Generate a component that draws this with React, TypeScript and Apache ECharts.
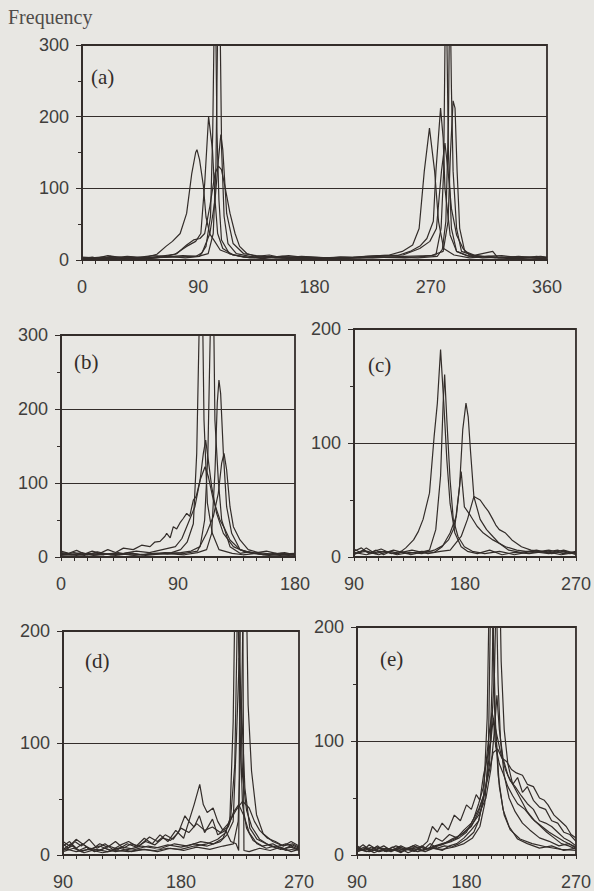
import React, { useEffect, useRef } from "react";
import * as echarts from "echarts";

// ---------- DATA : [angle in degrees, frequency] ----------
const panelLabels = ["(a)", "(b)", "(c)", "(d)", "(e)"];
const yTitle = "Frequency";

const aSeries1 = [[0,2],[8,4],[15,1],[22,5],[30,2],[40,3],[50,4],[58,8],[65,19],[70,26],[76,37],[81,65],[85,121],[88,150],[89,154],[91,140],[94,103],[96,60],[99,36],[102,28],[107,14],[117,7],[130,3],[145,5],[160,2],[175,4],[190,3],[205,2],[220,5],[238,7],[248,12],[256,21],[261,44],[265,124],[269,184],[273,124],[276,54],[280,16],[288,7],[300,3],[315,5],[330,2],[345,3],[360,2]];
const aSeries2 = [[0,3],[10,2],[20,6],[32,3],[45,2],[60,5],[72,8],[81,19],[88,26],[92,37],[95,107],[98,200],[101,154],[103,84],[105,37],[109,16],[117,7],[128,4],[140,2],[155,5],[170,3],[185,2],[200,4],[215,3],[230,5],[244,6],[254,12],[262,20],[267,30],[272,54],[274,124],[277.6,212],[279.6,170],[281,100],[285,35],[290,12],[298,6],[310,3],[325,4],[340,2],[352,5],[360,3]];
const aSeries3 = [[0,1],[12,3],[25,2],[38,4],[52,2],[68,5],[80,3],[91,5],[96,19],[99.5,61],[101.2,178],[103,420],[104.5,178],[106,84],[108,28],[114,9],[125,4],[140,3],[160,6],[180,2],[200,3],[225,4],[250,3],[265,5],[274,7],[278,44],[280,124],[281.7,420],[283.7,147],[286,44],[290,12],[300,5],[318,12],[322,3],[340,4],[360,2]];
const aSeries4 = [[0,2],[15,4],[30,3],[48,2],[62,4],[78,6],[90,5],[97.7,9],[101.6,37],[103.7,131],[105,320],[106,380],[107,320],[108.1,154],[110,61],[113,23],[119.5,9],[130,5],[150,3],[170,4],[195,2],[215,3],[240,4],[260,3],[275,5],[279,15],[281.7,54],[283.7,194],[284.8,400],[286,240],[287.3,124],[290,44],[293.8,12],[305,5],[325,3],[345,4],[360,2]];
const aSeries5 = [[0,3],[18,2],[35,5],[50,3],[70,4],[88,5],[93,10],[99,37],[103,84],[105.6,140],[107.5,175],[109,154],[112,65],[117,23],[125,9],[135,6],[150,3],[175,2],[200,4],[225,3],[250,5],[270,6],[279.6,12],[283.4,54],[285.2,147],[287.3,222],[288.8,212],[290.4,124],[292.4,44],[296.3,12],[305,6],[320,3],[338,5],[360,2]];
const aSeries6 = [[0,4],[10,3],[25,4],[40,3],[55,6],[65,5],[73.5,9],[81,21],[86.4,28],[91.3,30],[95,37],[99,75],[103,121],[105.6,131],[108,126],[110.6,103],[114.6,65],[118.5,37],[122,19],[127.6,9],[135,5],[145,7],[155,3],[170,5],[190,3],[210,4],[230,6],[248.5,7],[261.5,16],[269.3,26],[274.4,44],[278.3,124],[281,163],[283.4,124],[286,72],[290,35],[295,16],[300,7],[310,5],[325,6],[340,3],[355,5],[360,4]];

const bSeries1 = [[0,5],[8,3],[16,6],[25,2],[35,4],[45,3],[55,5],[65,2],[75,4],[85,6],[92,10],[97,20],[101.8,45],[104.4,140],[106.4,320],[108,380],[109,320],[110,185],[112.6,73],[116.4,32],[121.5,10],[131.7,5],[140,3],[150,5],[160,2],[170,4],[180,3]];
const bSeries2 = [[0,3],[10,6],[20,3],[30,5],[42,2],[52,6],[62,3],[72,5],[82,4],[92,6],[100,8],[107,14],[110.5,50],[113,140],[115,320],[116.5,380],[117.5,320],[118.4,185],[121,104],[123.6,50],[130,14],[137.7,5],[145,7],[155,3],[165,5],[175,2],[180,4]];
const bSeries3 = [[0,4],[12,2],[22,5],[33,3],[44,6],[56,2],[68,4],[80,5],[95,3],[105,6],[112,10],[115.9,32],[118.5,118],[120.2,208],[121.5,239],[122.8,221],[124.9,140],[127.4,68],[131.3,32],[137.7,10],[145,6],[155,4],[168,2],[180,3]];
const bSeries4 = [[0,6],[9,4],[18,2],[28,7],[38,3],[48,5],[58,8],[68,6],[78,10],[88,14],[93,25],[96.7,41],[103,68],[107,104],[109.5,140],[111.3,158],[113.3,131],[115.9,95],[119.7,59],[124.9,32],[132.6,14],[140,8],[148,5],[158,3],[170,5],[180,2]];
const bSeries5 = [[0,2],[14,4],[26,3],[40,5],[54,3],[66,4],[80,6],[95,5],[105,8],[112,32],[117.2,55],[121,86],[123.6,127],[125.4,140],[127.4,118],[130,68],[132.6,41],[137.7,23],[144,10],[152,6],[162,4],[172,6],[180,3]];
const bSeries6 = [[0,8],[6,5],[12,9],[18,4],[24,8],[30,5],[36,10],[42,6],[48,12],[55.6,10],[62,16],[68.5,14],[72,20],[76.2,21],[80,28],[81.3,32],[84,26],[86.4,41],[89,38],[91.5,46],[94,52],[96.7,59],[99,55],[101.8,77],[104,82],[107,104],[110.8,122],[113.3,109],[117.2,77],[122.3,50],[126,38],[130,23],[137.7,10],[148,5],[158,8],[168,4],[180,5]];

const cSeries1 = [[90,5],[96,8],[102,3],[108,6],[114,2],[120,5],[126,3],[132,8],[138.3,15],[142,22],[146,33],[151.2,56],[155,106],[157.6,135],[160.2,182],[162.8,135],[165.3,85],[167.9,47],[171.8,21],[176.9,9],[182,5],[190,3],[200,6],[210,2],[220,4],[232,3],[245,5],[258,2],[270,4]];
const cSeries2 = [[90,2],[97,6],[104,4],[112,7],[120,3],[128,5],[136,2],[144,4],[151.2,6],[156.3,24],[160.2,71],[162.3,135],[163.5,160],[165.3,120],[167.9,68],[170.5,33],[174.3,18],[179.5,9],[186,5],[196,3],[208,5],[220,2],[234,5],[248,3],[260,6],[270,3]];
const cSeries3 = [[90,7],[95,4],[100,8],[107,3],[115,5],[125,2],[135,4],[145,3],[155,6],[162,10],[166.6,15],[171.8,27],[175.6,62],[178.2,112],[180.8,135],[182.6,123],[184.6,91],[187.2,53],[192.3,33],[197.5,24],[202.6,18],[207.8,12],[215.5,6],[225,4],[238,6],[250,3],[262,5],[270,2]];
const cSeries4 = [[90,3],[99,5],[110,2],[122,6],[133,3],[145,5],[155,4],[161.5,9],[167.9,21],[173,36],[176.9,75],[179.5,44],[184.6,36],[189.8,27],[194.9,21],[202.6,15],[212.9,9],[222,6],[235,4],[248,6],[260,3],[270,5]];
const cSeries5 = [[90,4],[100,2],[111,5],[124,3],[137,6],[150,3],[160,5],[168,6],[176.9,18],[182,33],[187.2,53],[192.3,50],[196.2,44],[199,40],[202.6,33],[205,28],[207.8,24],[212.9,21],[218,15],[225.8,9],[233.5,6],[245,4],[255,6],[265,3],[270,4]];

const dSeries1 = [[90,8],[95,12],[100,6],[105,10],[110,5],[118,8],[126,4],[135,7],[145,5],[155,8],[165,6],[175,10],[185,8],[195,12],[205,10],[212,15],[217.2,30],[219.8,119],[221.5,260],[223,260],[224.9,119],[226.9,45],[230,24],[235,13],[242,8],[250,10],[258,5],[265,9],[270,6]];
const dSeries2 = [[90,5],[96,10],[102,4],[108,7],[114,3],[122,6],[130,3],[140,5],[150,8],[160,6],[170,9],[180,7],[190,10],[200,8],[210,12],[215,18],[219.8,30],[222.3,104],[224.4,176],[226.1,134],[228.7,60],[232.5,24],[238,14],[245,10],[252,7],[260,10],[270,5]];
const dSeries3 = [[90,3],[98,6],[106,2],[115,5],[124,3],[133,6],[142,3],[152,5],[162,3],[172,6],[182,4],[192,7],[202,5],[212,8],[220,10],[223.6,30],[226.1,119],[227.8,260],[229.5,260],[231.2,134],[233.8,75],[237.6,36],[242.7,19],[250,12],[258,8],[265,10],[270,7]];
const dSeries4 = [[90,10],[94,6],[99,12],[104,8],[110,14],[116,6],[122,10],[128,5],[134,9],[140,12],[146,8],[152,15],[158,10],[164,18],[170,12],[176,22],[182,15],[186,30],[190,25],[194,35],[198,20],[204,32],[208,18],[214,22],[218,12],[222,10],[224,4],[225.5,260],[227,260],[228,4],[232,3],[240,6],[248,4],[256,7],[264,3],[270,5]];
const dSeries5 = [[90,4],[97,8],[104,3],[111,6],[118,4],[125,8],[132,5],[139,10],[146,7],[153,12],[160,9],[166,15],[172,13],[178,20],[183,35],[186,30],[190,45],[194.3,63],[197,45],[200,38],[204.5,42],[208,30],[212,22],[216,25],[220,38],[224,45],[228,35],[232,20],[238,10],[245,6],[252,8],[260,4],[270,6]];
const dSeries6 = [[90,12],[95,8],[100,14],[106,9],[112,5],[118,10],[124,7],[130,12],[136,6],[142,10],[148,8],[156,16],[162,12],[168,18],[174,14],[180,24],[186,20],[192,28],[198,22],[204,25],[210,20],[216,28],[222,40],[227,48],[232,42],[236,30],[240,22],[246,15],[252,12],[258,8],[264,12],[270,8]];
const dSeries7 = [[90,6],[100,3],[110,5],[120,2],[130,4],[140,3],[150,5],[160,4],[170,6],[180,5],[190,8],[200,10],[208,14],[214,20],[218,35],[221,80],[222.5,180],[223.5,260],[225,150],[227,70],[230,40],[234,25],[240,14],[248,8],[256,5],[264,7],[270,4]];

const eSeries1 = [[90,8],[96,4],[102,7],[108,3],[114,6],[120,4],[126,8],[132,5],[138,7],[144,4],[150,10],[156,6],[162,8],[168,7],[174,10],[180,14],[186,20],[190,30],[194,50],[197,120],[199,250],[201,250],[203,130],[206,70],[210,40],[215,25],[222,14],[230,10],[240,6],[250,8],[260,4],[270,6]];
const eSeries2 = [[90,5],[95,9],[101,4],[107,8],[113,3],[119,7],[125,4],[131,6],[137,3],[143,8],[149,5],[155,15],[160,12],[166,18],[172,15],[178,22],[184,28],[190,40],[195,55],[199,80],[201,150],[202.5,260],[204,260],[206,150],[208,100],[211,70],[215,50],[220,38],[226,28],[232,22],[240,15],[248,12],[256,8],[264,10],[270,6]];
const eSeries3 = [[90,3],[97,6],[104,2],[111,5],[118,3],[125,6],[132,2],[139,5],[146,3],[153,6],[160,4],[166,8],[172,10],[178,15],[184,22],[190,30],[196,60],[200,100],[203,160],[205,260],[207,260],[208.5,170],[211,110],[214,80],[218,62],[224,50],[230,38],[236,30],[242,25],[248,20],[254,16],[260,12],[266,9],[270,7]];
const eSeries4 = [[90,6],[98,3],[106,7],[114,4],[122,8],[130,5],[138,9],[146,5],[154,8],[160,10],[166,12],[172,15],[178,20],[184,26],[190,35],[196,50],[200,75],[203,110],[205,140],[207,110],[210,85],[214,70],[218,62],[222,68],[226,55],[230,60],[235,48],[240,42],[245,40],[250,30],[255,28],[260,20],[265,18],[270,12]];
const eSeries5 = [[90,4],[96,7],[102,3],[108,6],[114,3],[120,5],[126,2],[132,6],[138,4],[144,7],[150,5],[156,8],[162,10],[168,12],[174,15],[180,20],[186,32],[190,45],[194,60],[196,80],[199,110],[201,125],[204,110],[208,90],[212,75],[216,65],[220,60],[225,52],[230,45],[235,40],[240,30],[245,28],[250,25],[255,20],[260,15],[265,12],[270,8]];
const eSeries6 = [[90,7],[95,4],[100,9],[106,5],[112,8],[118,4],[124,7],[130,5],[136,8],[142,6],[148,12],[152,25],[156,20],[160,28],[165,22],[170,35],[175,30],[180,44],[184,40],[188,53],[191,48],[194,70],[197,85],[200,100],[202,120],[204,95],[207,80],[210,72],[214,60],[218,52],[222,45],[228,40],[234,32],[240,26],[246,20],[252,15],[258,10],[264,8],[270,5]];
const eSeries7 = [[90,3],[99,6],[108,3],[117,5],[126,3],[135,6],[144,4],[153,7],[160,9],[168,14],[176,18],[184,25],[190,38],[195,55],[199,75],[202,90],[205.7,93],[209,85],[213,82],[217,75],[221,72],[226,70],[230,62],[235,60],[240,50],[244,48],[247,44],[252,35],[257,30],[262,25],[266,18],[270,15]];
const eSeries8 = [[90,5],[100,3],[110,6],[120,4],[130,5],[140,3],[150,6],[160,5],[170,7],[178,10],[185,15],[191,25],[195,45],[198,90],[199.5,200],[200.5,260],[202,200],[204,110],[207,60],[211,35],[216,22],[224,14],[234,10],[246,7],[258,5],[270,4]];

const panelSeries = [
  [aSeries1, aSeries2, aSeries3, aSeries4, aSeries5, aSeries6],
  [bSeries1, bSeries2, bSeries3, bSeries4, bSeries5, bSeries6],
  [cSeries1, cSeries2, cSeries3, cSeries4, cSeries5],
  [dSeries1, dSeries2, dSeries3, dSeries4, dSeries5, dSeries6, dSeries7],
  [eSeries1, eSeries2, eSeries3, eSeries4, eSeries5, eSeries6, eSeries7, eSeries8],
];
const xRanges = [[0, 360], [0, 180], [90, 270], [90, 270], [90, 270]];
const yMaxes = [300, 300, 200, 200, 200];

// ---------- LAYOUT ----------
const W = 594, H = 891;
const grids = [
  { left: 82, top: 45, width: 465, height: 215 },
  { left: 61, top: 335, width: 234, height: 222 },
  { left: 354, top: 329, width: 233, height: 228 },
  { left: 63, top: 631, width: 236, height: 228 },
  { left: 357, top: 627, width: 233, height: 231 },
];
const labelPos = [[91, 77], [74, 362], [368, 365], [85, 661], [380, 659]];

const INK = "#332d2a";
const LABEL = "#403e3c";
const BG = "#e8e7e3";

export default function App() {
  const ref = useRef<HTMLDivElement>(null);
  useEffect(() => {
    if (!ref.current) return;
    const chart = echarts.init(ref.current, null, { renderer: "svg" });
    const xAxis = grids.map((_, i) => ({
      type: "value",
      gridIndex: i,
      min: xRanges[i][0],
      max: xRanges[i][1],
      interval: 10,
      splitLine: { show: false },
      axisLine: { show: true, onZero: false, lineStyle: { color: INK, width: 2 } },
      axisTick: { show: true, length: 4, lineStyle: { color: INK, width: 1 } },
      axisLabel: {
        margin: 18,
        fontSize: 18,
        fontFamily: "Liberation Sans, Arial, sans-serif",
        color: LABEL,
        formatter: (v: number) => (v % 90 === 0 ? String(v) : ""),
      },
    }));
    const yAxis = grids.map((_, i) => ({
      type: "value",
      gridIndex: i,
      min: 0,
      max: yMaxes[i],
      interval: 100,
      axisLine: { show: true, onZero: false, lineStyle: { color: INK, width: 1.8 } },
      axisTick: { show: true, length: 6, lineStyle: { color: INK, width: 1 } },
      minorTick: { show: true, splitNumber: 2, length: 4, lineStyle: { color: INK, width: 1 } },
      splitLine: { show: true, lineStyle: { color: INK, width: 1.2 } },
      axisLabel: {
        margin: 13,
        fontSize: 18,
        fontFamily: "Liberation Sans, Arial, sans-serif",
        color: LABEL,
      },
    }));
    const series: any[] = [];
    panelSeries.forEach((list, i) => {
      list.forEach((data, j) => {
        series.push({
          type: "line",
          name: `${panelLabels[i]} ${j + 1}`,
          xAxisIndex: i,
          yAxisIndex: i,
          data,
          showSymbol: false,
          clip: true,
          lineStyle: { color: INK, width: 1.2 },
          emphasis: { disabled: true },
        });
      });
    });
    const graphic: any[] = [
      {
        type: "text",
        left: 8,
        top: 7,
        style: { text: yTitle, fontSize: 20, fontFamily: "Liberation Serif, Times New Roman, serif", fill: "#4f4c4a" },
      },
      ...panelLabels.map((t, i) => ({
        type: "text",
        x: labelPos[i][0],
        y: labelPos[i][1],
        style: {
          text: t,
          fontSize: 21,
          fontFamily: "Liberation Serif, Times New Roman, serif",
          fill: INK,
          verticalAlign: "middle",
        },
      })),
    ];
    chart.setOption({
      animation: false,
      backgroundColor: BG,
      grid: grids.map((g) => ({ ...g, show: true, borderColor: INK, borderWidth: 1.8, backgroundColor: "transparent" })),
      xAxis,
      yAxis,
      series,
      graphic,
    });
    return () => chart.dispose();
  }, []);
  return (
    <div style={{ position: "fixed", left: 0, top: 0, width: W, height: H, background: BG }}>
      <div ref={ref} style={{ width: W, height: H }} />
    </div>
  );
}
